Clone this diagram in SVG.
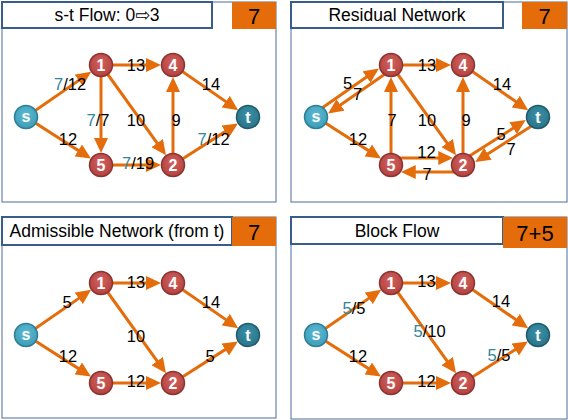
<svg xmlns="http://www.w3.org/2000/svg" width="568" height="420" viewBox="0 0 568 420">
<style>
.frame{fill:none;stroke:#4a6c9b;stroke-width:1}
.tbox{fill:#fff;stroke:#385d8a;stroke-width:2}
.obox{fill:#e46c0a}
.title{font-family:"Liberation Sans","DejaVu Sans",Arial,sans-serif;font-size:17.5px;fill:#000;text-anchor:middle}
.onum{font-family:"Liberation Sans",Arial,sans-serif;font-size:22px;fill:#000;text-anchor:middle}
.e{stroke:#e46c0a;stroke-width:3;fill:none;marker-end:url(#ah)}
.el{font-family:"Liberation Sans",Arial,sans-serif;font-size:16.5px;fill:#000;text-anchor:middle}
.f{fill:#31859c}
.red{fill:url(#gred);stroke:#8b3330;stroke-width:1.5}
.src{fill:url(#gsrc);stroke:#2f7d93;stroke-width:1.5}
.snk{fill:url(#gsnk);stroke:#1f5a6a;stroke-width:1.5}
.nl{font-family:"Liberation Sans",Arial,sans-serif;font-size:16px;font-weight:bold;fill:#fff;text-anchor:middle}
</style>
<defs>
<marker id="ah" markerUnits="userSpaceOnUse" viewBox="0 0 15 14" markerWidth="15" markerHeight="14" refX="11" refY="7" orient="auto">
<path d="M0,0 L15,7 L0,14 z" fill="#e46c0a"/>
</marker>
<radialGradient id="gred" cx="50%" cy="40%" r="60%"><stop offset="0" stop-color="#d2625f"/><stop offset="1" stop-color="#b3423f"/></radialGradient>
<radialGradient id="gsrc" cx="50%" cy="40%" r="60%"><stop offset="0" stop-color="#5cbad3"/><stop offset="1" stop-color="#3d9db8"/></radialGradient>
<radialGradient id="gsnk" cx="50%" cy="40%" r="60%"><stop offset="0" stop-color="#3a90a8"/><stop offset="1" stop-color="#2a7489"/></radialGradient>
</defs>

<!-- Panel frames -->
<g id="frames">
<rect class="frame" x="2" y="2" width="274" height="200"/>
<rect class="tbox" x="2" y="2" width="210" height="26"/>
<rect class="obox" x="232" y="2" width="44" height="27"/>
<text class="title" x="107" y="21">s-t Flow: 0⇨3</text>
<text class="onum" x="254" y="24">7</text>

<rect class="frame" x="291" y="2" width="276" height="200"/>
<rect class="tbox" x="291" y="2" width="212" height="26"/>
<rect class="obox" x="522" y="2" width="45" height="27"/>
<text class="title" x="397" y="21">Residual Network</text>
<text class="onum" x="544.5" y="24">7</text>

<rect class="frame" x="2" y="217" width="274" height="201"/>
<rect class="tbox" x="2" y="217" width="230" height="28"/>
<rect class="obox" x="232" y="217" width="44" height="29"/>
<text class="title" x="117" y="237">Admissible Network (from t)</text>
<text class="onum" x="254" y="240">7</text>

<rect class="frame" x="291" y="217" width="276" height="202"/>
<rect class="tbox" x="291" y="217" width="212" height="27"/>
<rect class="obox" x="503" y="217" width="64" height="31"/>
<text class="title" x="397" y="237">Block Flow</text>
<text class="onum" x="535" y="241">7+5</text>
</g>

<!-- Panel 1: s-t flow -->
<g id="panel1">
<g id="p1-edges">
<line class="e" x1="26" y1="117" x2="87.85" y2="74.12"/>
<line class="e" x1="26" y1="117" x2="87.52" y2="156.37"/>
<line class="e" x1="101" y1="65" x2="157" y2="65"/>
<line class="e" x1="101" y1="65" x2="101" y2="149"/>
<line class="e" x1="101" y1="65" x2="163.65" y2="152.01"/>
<line class="e" x1="101" y1="165" x2="157" y2="165"/>
<line class="e" x1="173" y1="165" x2="173" y2="81"/>
<line class="e" x1="173" y1="65" x2="234.85" y2="107.88"/>
<line class="e" x1="173" y1="165" x2="234.52" y2="125.63"/>
</g>
<g id="p1-labels">
<text class="el" x="70" y="90"><tspan class="f">7</tspan>/12</text>
<text class="el" x="68" y="145">12</text>
<text class="el" x="98" y="126"><tspan class="f">7</tspan>/7</text>
<text class="el" x="136" y="71">13</text>
<text class="el" x="136" y="126">10</text>
<text class="el" x="176" y="126">9</text>
<text class="el" x="211" y="90">14</text>
<text class="el" x="213.5" y="145"><tspan class="f">7</tspan>/12</text>
<text class="el" x="138" y="169"><tspan class="f">7</tspan>/19</text>
</g>
<g id="p1-s"><circle class="src" cx="26" cy="117" r="11.5"/><text class="nl" x="26" y="121.5">s</text></g>
<g id="p1-n1"><circle class="red" cx="101" cy="65" r="11.5"/><text class="nl" x="101" y="70.5">1</text></g>
<g id="p1-n4"><circle class="red" cx="173" cy="65" r="11.5"/><text class="nl" x="173" y="70.5">4</text></g>
<g id="p1-t"><circle class="snk" cx="248" cy="117" r="11.5"/><text class="nl" x="248" y="122.5">t</text></g>
<g id="p1-n5"><circle class="red" cx="101" cy="165" r="11.5"/><text class="nl" x="101" y="170.5">5</text></g>
<g id="p1-n2"><circle class="red" cx="173" cy="165" r="11.5"/><text class="nl" x="173" y="170.5">2</text></g>
</g>

<!-- Panel 2: residual network -->
<g id="panel2" transform="translate(290,0)">
<g id="p2-edges">
<line class="e" x1="23.7" y1="113.7" x2="85.57" y2="70.83"/>
<line class="e" x1="103.3" y1="68.3" x2="41.43" y2="111.17"/>
<line class="e" x1="26" y1="117" x2="87.52" y2="156.37"/>
<line class="e" x1="101" y1="165" x2="101" y2="81"/>
<line class="e" x1="101" y1="65" x2="157" y2="65"/>
<line class="e" x1="101" y1="65" x2="163.65" y2="152.01"/>
<line class="e" x1="173" y1="165" x2="173" y2="81"/>
<line class="e" x1="173" y1="65" x2="234.85" y2="107.88"/>
<line class="e" x1="170.8" y1="161.6" x2="232.36" y2="122.26"/>
<line class="e" x1="250.2" y1="120.4" x2="188.64" y2="159.74"/>
<line class="e" x1="101" y1="158" x2="159.25" y2="158"/>
<line class="e" x1="173" y1="172" x2="114.75" y2="172"/>
</g>
<g id="p2-labels">
<text class="el" x="57.5" y="89">5</text>
<text class="el" x="67.5" y="100">7</text>
<text class="el" x="68" y="145">12</text>
<text class="el" x="102" y="126">7</text>
<text class="el" x="137" y="71">13</text>
<text class="el" x="137" y="126">10</text>
<text class="el" x="176" y="126">9</text>
<text class="el" x="212" y="90">14</text>
<text class="el" x="211" y="140">5</text>
<text class="el" x="221" y="155">7</text>
<text class="el" x="136.5" y="158">12</text>
<text class="el" x="137" y="180">7</text>
</g>
<g id="p2-s"><circle class="src" cx="26" cy="117" r="11.5"/><text class="nl" x="26" y="121.5">s</text></g>
<g id="p2-n1"><circle class="red" cx="101" cy="65" r="11.5"/><text class="nl" x="101" y="70.5">1</text></g>
<g id="p2-n4"><circle class="red" cx="173" cy="65" r="11.5"/><text class="nl" x="173" y="70.5">4</text></g>
<g id="p2-t"><circle class="snk" cx="248" cy="117" r="11.5"/><text class="nl" x="248" y="122.5">t</text></g>
<g id="p2-n5"><circle class="red" cx="101" cy="165" r="11.5"/><text class="nl" x="101" y="170.5">5</text></g>
<g id="p2-n2"><circle class="red" cx="173" cy="165" r="11.5"/><text class="nl" x="173" y="170.5">2</text></g>
</g>

<!-- Panel 3: admissible network -->
<g id="panel3" transform="translate(0,218)">
<g id="p3-edges">
<line class="e" x1="26" y1="117" x2="87.85" y2="74.12"/>
<line class="e" x1="26" y1="117" x2="87.52" y2="156.37"/>
<line class="e" x1="101" y1="65" x2="157" y2="65"/>
<line class="e" x1="101" y1="65" x2="163.65" y2="152.01"/>
<line class="e" x1="101" y1="165" x2="157" y2="165"/>
<line class="e" x1="173" y1="65" x2="234.85" y2="107.88"/>
<line class="e" x1="173" y1="165" x2="234.52" y2="125.63"/>
</g>
<g id="p3-labels">
<text class="el" x="67" y="90">5</text>
<text class="el" x="68" y="144">12</text>
<text class="el" x="136" y="70">13</text>
<text class="el" x="136" y="124">10</text>
<text class="el" x="211" y="90">14</text>
<text class="el" x="210" y="144">5</text>
<text class="el" x="136" y="169">12</text>
</g>
<g id="p3-s"><circle class="src" cx="26" cy="117" r="11.5"/><text class="nl" x="26" y="121.5">s</text></g>
<g id="p3-n1"><circle class="red" cx="101" cy="65" r="11.5"/><text class="nl" x="101" y="70.5">1</text></g>
<g id="p3-n4"><circle class="red" cx="173" cy="65" r="11.5"/><text class="nl" x="173" y="70.5">4</text></g>
<g id="p3-t"><circle class="snk" cx="248" cy="117" r="11.5"/><text class="nl" x="248" y="122.5">t</text></g>
<g id="p3-n5"><circle class="red" cx="101" cy="165" r="11.5"/><text class="nl" x="101" y="170.5">5</text></g>
<g id="p3-n2"><circle class="red" cx="173" cy="165" r="11.5"/><text class="nl" x="173" y="170.5">2</text></g>
</g>

<!-- Panel 4: block flow -->
<g id="panel4" transform="translate(290,218)">
<g id="p4-edges">
<line class="e" x1="26" y1="117" x2="87.85" y2="74.12"/>
<line class="e" x1="26" y1="117" x2="87.52" y2="156.37"/>
<line class="e" x1="101" y1="65" x2="157" y2="65"/>
<line class="e" x1="101" y1="65" x2="163.65" y2="152.01"/>
<line class="e" x1="101" y1="165" x2="157" y2="165"/>
<line class="e" x1="173" y1="65" x2="234.85" y2="107.88"/>
<line class="e" x1="173" y1="165" x2="234.52" y2="125.63"/>
</g>
<g id="p4-labels">
<text class="el" x="64" y="96"><tspan class="f">5</tspan>/5</text>
<text class="el" x="68" y="144">12</text>
<text class="el" x="136.5" y="69">13</text>
<text class="el" x="139.5" y="119"><tspan class="f">5</tspan>/10</text>
<text class="el" x="211" y="89">14</text>
<text class="el" x="209" y="143"><tspan class="f">5</tspan>/5</text>
<text class="el" x="136.5" y="169">12</text>
</g>
<g id="p4-s"><circle class="src" cx="26" cy="117" r="11.5"/><text class="nl" x="26" y="121.5">s</text></g>
<g id="p4-n1"><circle class="red" cx="101" cy="65" r="11.5"/><text class="nl" x="101" y="70.5">1</text></g>
<g id="p4-n4"><circle class="red" cx="173" cy="65" r="11.5"/><text class="nl" x="173" y="70.5">4</text></g>
<g id="p4-t"><circle class="snk" cx="248" cy="117" r="11.5"/><text class="nl" x="248" y="122.5">t</text></g>
<g id="p4-n5"><circle class="red" cx="101" cy="165" r="11.5"/><text class="nl" x="101" y="170.5">5</text></g>
<g id="p4-n2"><circle class="red" cx="173" cy="165" r="11.5"/><text class="nl" x="173" y="170.5">2</text></g>
</g>
</svg>
